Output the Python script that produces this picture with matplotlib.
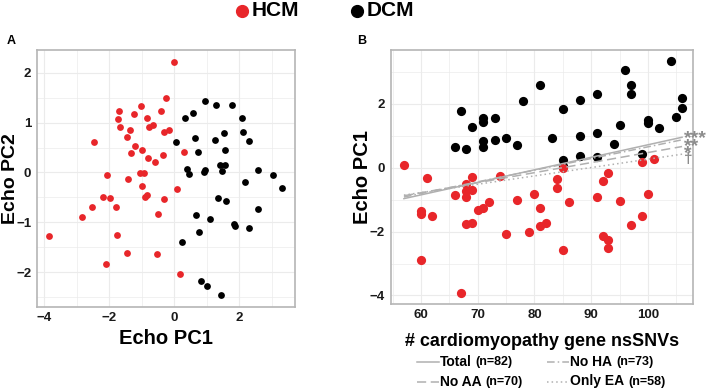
import matplotlib
matplotlib.use("Agg")
import matplotlib.pyplot as plt
from matplotlib.lines import Line2D
import numpy as np

plt.rcParams['font.family'] = ['Liberation Sans', 'DejaVu Sans']
plt.rcParams['font.weight'] = 'bold'

RED = '#e8262a'
BLACK = '#000000'
GRID = '#ebebeb'
BORDER = '#b5b5b5'
LINEGRAY = '#b0b0b0'
STARGRAY = '#8c8c8c'

# ---- panel A: Echo PC1 vs Echo PC2 ----
hcm_pc1 = [0.00, -0.26, -1.03, -0.41, -1.68, -1.23, -1.72, -0.83, -0.64, -0.76, -1.67,
           -1.36, -0.14, -0.30, -1.46, -2.46, -1.19, -0.98, 0.31, -1.31, -0.35, -0.80,
           -0.60, -1.06, -0.92, -2.05, -1.43, -0.98, 0.10, -0.82, -0.88, -0.30, -2.20,
           -1.97, -2.53, -1.79, -2.83, -0.48, -3.85, -1.77, -1.46, -0.51, -2.08, 0.18]
hcm_pc2 = [2.22, 1.49, 1.33, 1.23, 1.23, 1.17, 1.07, 1.10, 0.95, 0.91, 0.92,
           0.85, 0.85, 0.81, 0.71, 0.61, 0.54, 0.45, 0.42, 0.40, 0.35, 0.29,
           0.21, -0.02, -0.02, -0.06, -0.13, -0.28, -0.33, -0.45, -0.49, -0.53, -0.50,
           -0.51, -0.69, -0.69, -0.89, -0.83, -1.27, -1.25, -1.62, -1.64, -1.84, -2.03]
dcm_pc1 = [0.94, 1.28, 1.79, 0.58, 0.34, 2.09, 1.55, 2.11, 0.65, 1.26, 2.31, 0.06, 1.58,
           0.73, 1.40, 1.56, 0.39, 0.96, 0.91, 1.49, 2.59, 0.47, 3.04, 3.33, 2.17, 1.35,
           1.61, 2.58, 0.67, 1.11, 1.84, 1.88, 2.32, 0.77, 0.24, 0.84, 1.00, 1.44]
dcm_pc2 = [1.43, 1.35, 1.35, 1.20, 1.09, 1.09, 0.80, 0.81, 0.70, 0.65, 0.64, 0.62, 0.45,
           0.42, 0.14, 0.15, 0.07, 0.05, 0.00, 0.03, 0.05, -0.04, -0.05, -0.31, -0.20, -0.52,
           -0.58, -0.73, -0.85, -0.93, -1.04, -1.07, -1.12, -1.19, -1.39, -2.17, -2.27, -2.46]

# ---- panel B: nsSNV count vs Echo PC1 ----
hcm_snv = [57, 61, 66, 60, 60, 62, 60, 67, 69, 68, 68, 69, 68, 70, 71, 72, 68, 69, 74, 75,
           77, 79, 80, 81, 81, 82, 84, 84, 85, 86, 85, 91, 93, 92, 92, 93, 93, 95, 97, 99,
           99, 101, 100]
hcm_echo = [0.07, -0.31, -0.85, -1.35, -1.46, -1.50, -2.88, -3.92, -0.30, -0.51, -0.74,
            -0.71, -0.92, -1.34, -1.26, -1.08, -1.76, -1.72, -0.27, -2.09, -1.01, -2.02,
            -0.83, -1.26, -1.83, -1.72, -0.35, -0.63, 0.00, -1.09, -2.58, -0.92, -0.18,
            -0.43, -2.13, -2.25, -2.51, -1.03, -1.81, -1.50, 0.17, 0.28, -0.84]
dcm_snv = [104, 96, 97, 97, 81, 91, 78, 88, 106, 106, 67, 85, 105, 71, 71, 73, 100, 100,
           69, 95, 102, 91, 71, 83, 75, 73, 88, 94, 66, 68, 77, 71, 99, 88, 91, 85, 85]
dcm_echo = [3.33, 3.04, 2.59, 2.31, 2.59, 2.29, 2.08, 2.11, 2.17, 1.86, 1.76, 1.82, 1.59,
            1.55, 1.42, 1.54, 1.49, 1.41, 1.26, 1.32, 1.25, 1.09, 0.84, 0.93, 0.92, 0.87,
            0.98, 0.74, 0.65, 0.57, 0.71, 0.63, 0.44, 0.36, 0.32, 0.24, 0.04]

# regression fits (value at x = 57 and x = 106)
fit_x = [57, 106]
fit_names = ['Total', 'No HA', 'No AA', 'Only EA']
fit_n = ['(n=82)', '(n=73)', '(n=70)', '(n=58)']
fit_y0 = [-0.97, -0.92, -0.88, -0.86]
fit_y1 = [0.95, 0.87, 0.66, 0.42]
fit_sig = ['***', '**', '*', '\u2020']
sig_y = [0.77, 0.53, 0.29, 0.13]
sig_size = [14, 14, 14, 11]
fit_styles = ['-', (0, (5, 2, 1, 2)), (0, (6, 3)), (0, (1, 2))]

fig = plt.figure(figsize=(7.09, 3.91), dpi=100)
axA = fig.add_axes([0.052, 0.215, 0.364, 0.657])
axB = fig.add_axes([0.551, 0.223, 0.427, 0.650])


def style(ax):
    ax.set_facecolor('white')
    ax.grid(True, which='major', color=GRID, lw=0.8)
    ax.grid(True, which='minor', color=GRID, lw=0.5)
    ax.set_axisbelow(True)
    for s in ax.spines.values():
        s.set_color(BORDER)
        s.set_linewidth(1.2)
    ax.tick_params(which='both', length=0, labelsize=9.5, colors='#1a1a1a', pad=4)
    for t in ax.get_xticklabels() + ax.get_yticklabels():
        t.set_fontweight('bold')


axA.scatter(hcm_pc1, hcm_pc2, s=24, color=RED, linewidths=0, zorder=3)
axA.scatter(dcm_pc1, dcm_pc2, s=24, color=BLACK, linewidths=0, zorder=3)
axA.set_xlim(-4.22, 3.72)
axA.set_ylim(-2.69, 2.45)
axA.set_xticks([-4, -2, 0, 2])
axA.set_xticks([-3, -1, 1, 3], minor=True)
axA.set_yticks([-2, -1, 0, 1, 2])
axA.set_yticks([-2.5, -1.5, -0.5, 0.5, 1.5], minor=True)
style(axA)
axA.set_xlabel('Echo PC1', fontsize=14.5, fontweight='bold')
axA.set_ylabel('Echo PC2', fontsize=14, fontweight='bold')
axA.xaxis.set_label_coords(0.5, -0.085)
axA.yaxis.set_label_coords(-0.071, 0.5)

axB.scatter(dcm_snv, dcm_echo, s=44, color=BLACK, linewidths=0, zorder=3)
axB.scatter(hcm_snv, hcm_echo, s=44, color=RED, linewidths=0, zorder=3)
for y0, y1, ls in zip(fit_y0, fit_y1, fit_styles):
    axB.plot(fit_x, [y0, y1], color=LINEGRAY, lw=1.1, linestyle=ls, zorder=4)
for sig, sy, fs in zip(fit_sig, sig_y, sig_size):
    axB.text(106.4, sy, sig, color=STARGRAY, fontsize=fs, fontweight='bold',
             va='baseline', ha='left', clip_on=False, zorder=5)
axB.set_xlim(54.66, 108.0)
axB.set_ylim(-4.26, 3.69)
axB.set_xticks([60, 70, 80, 90, 100])
axB.set_xticks([55, 65, 75, 85, 95, 105], minor=True)
axB.set_yticks([-4, -2, 0, 2])
axB.set_yticks([-3, -1, 1, 3], minor=True)
style(axB)
axB.set_xlabel('# cardiomyopathy gene nsSNVs', fontsize=13, fontweight='bold')
axB.set_ylabel('Echo PC1', fontsize=14.5, fontweight='bold')
axB.xaxis.set_label_coords(0.5, -0.115)
axB.yaxis.set_label_coords(-0.06, 0.5)

# panel letters
fig.text(0.009, 0.895, 'A', fontsize=9, fontweight='bold', va='center')
fig.text(0.504, 0.895, 'B', fontsize=9, fontweight='bold', va='center')

# top legend (HCM / DCM)
fig.lines.append(Line2D([242 / 709], [1 - 11 / 391], marker='o', color=RED,
                        markersize=8.5, transform=fig.transFigure, linestyle='none'))
fig.text(252 / 709, 1 - 11 / 391, 'HCM', fontsize=15, fontweight='bold', va='center')
fig.lines.append(Line2D([357 / 709], [1 - 11 / 391], marker='o', color=BLACK,
                        markersize=8.5, transform=fig.transFigure, linestyle='none'))
fig.text(367 / 709, 1 - 11 / 391, 'DCM', fontsize=15, fontweight='bold', va='center')

# bottom legend for fit lines
leg_x = [417, 547, 417, 547]
leg_y = [361.5, 361.5, 381.5, 381.5]
renderer = fig.canvas.get_renderer()
for i in range(len(fit_names)):
    yy = 1 - leg_y[i] / 391
    fig.lines.append(Line2D([leg_x[i] / 709, (leg_x[i] + 22) / 709], [yy, yy],
                            color=LINEGRAY, lw=1.1, linestyle=fit_styles[i],
                            transform=fig.transFigure))
    name = fig.text((leg_x[i] + 23) / 709, yy, fit_names[i], fontsize=10,
                    fontweight='bold', va='center')
    x_end = name.get_window_extent(renderer).x1
    fig.text((x_end + 4) / 709, yy, fit_n[i], fontsize=9, fontweight='bold',
             va='center')

fig.savefig('out.png', dpi=100, facecolor='white')
